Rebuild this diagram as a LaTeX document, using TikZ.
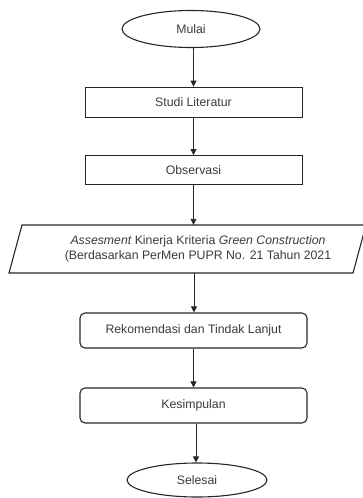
\documentclass[tikz,border=0pt]{standalone}
\usepackage{fontspec}
\setmainfont{Liberation Sans}
\usetikzlibrary{shapes.geometric,arrows.meta}
\definecolor{ln}{HTML}{262626}
\definecolor{tx}{HTML}{3A3A3A}
\begin{document}
\begin{tikzpicture}[x=1pt,y=-1pt,
  every node/.style={font=\fontsize{12.3}{15}\selectfont,text=tx},
  term/.style={draw=ln,line width=1.1pt,ellipse,inner sep=0pt},
  proc/.style={draw=ln,line width=0.9pt,rectangle,inner sep=0pt,minimum width=217pt},
  rproc/.style={draw=ln,line width=1.1pt,rectangle,rounded corners=5pt,inner sep=0pt,minimum width=227pt,minimum height=35pt},
  conn/.style={draw=ln,line width=0.9pt,-{Triangle[length=6pt,width=6pt]}}]
\useasboundingbox (0,0) rectangle (363,498);
\node[term,minimum width=138pt,minimum height=37pt] (mulai) at (191,29) {Mulai};
\node[proc,minimum height=30pt] (studi) at (193.5,102) {Studi Literatur};
\node[proc,minimum height=29pt] (obs) at (193.5,170) {Observasi};
\draw[ln,line width=1.1pt] (9,273) -- (353,273) -- (366,225) -- (22,225) -- cycle;
\node[minimum height=48pt,inner sep=0pt,align=center] (assess) at (198,249)
  {\itshape Assesment\upshape{} Kinerja Kriteria \itshape Green Construction\\(Berdasarkan PerMen PUPR No. 21 Tahun 2021};
\node[rproc] (rek) at (193.5,330.5) {Rekomendasi dan Tindak Lanjut};
\node[rproc] (kes) at (193.5,405.5) {Kesimpulan};
\node[term,minimum width=140pt,minimum height=34pt] (sel) at (197,480) {Selesai};
\draw[conn] (mulai.south -| studi.north) -- (studi.north);
\draw[conn] (studi.south) -- (obs.north);
\draw[conn] (obs.south) -- (obs.south |- assess.north);
\coordinate (a1) at ([xshift=0.5pt]obs.south |- assess.south);
\draw[conn] (a1) -- (a1 |- rek.north);
\draw[conn] (rek.south) -- (kes.north);
\coordinate (k1) at ([xshift=2.5pt]kes.south);
\draw[conn] (k1) -- (k1 |- sel.north);
\end{tikzpicture}
\end{document}
